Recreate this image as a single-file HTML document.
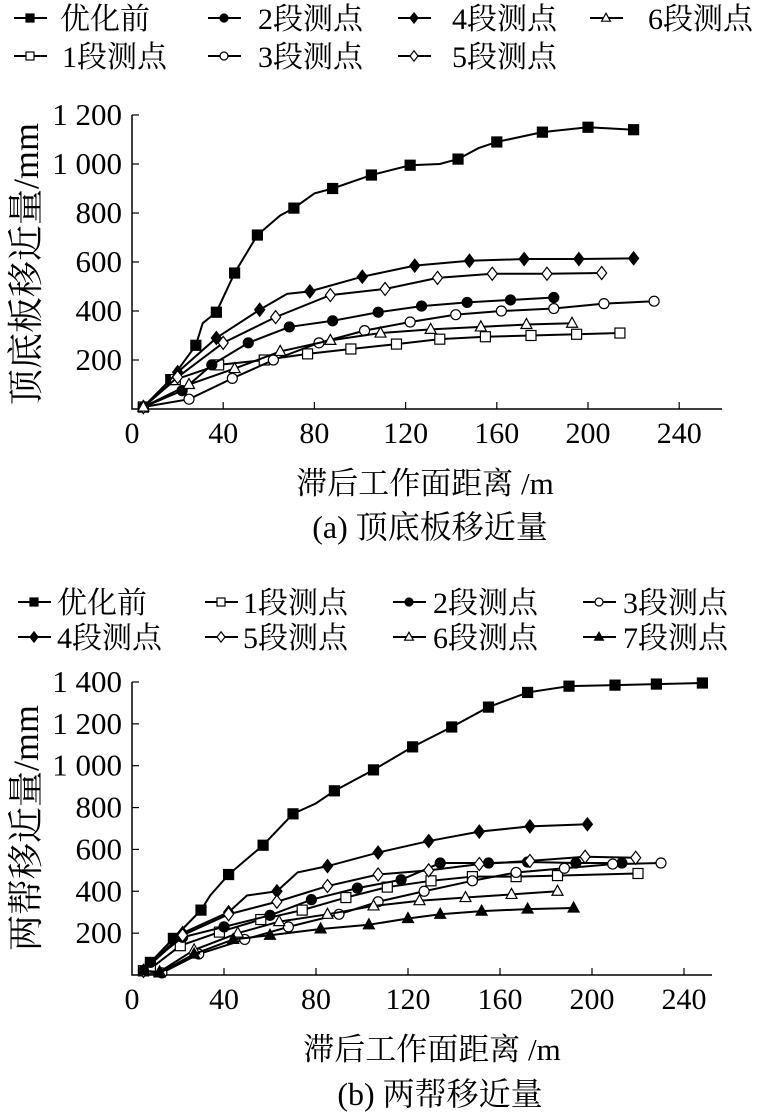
<!DOCTYPE html>
<html><head><meta charset="utf-8"><style>
body{margin:0;background:#fff;width:764px;height:1117px;overflow:hidden}
svg{display:block}
text{font-family:"Liberation Serif","Noto Serif CJK SC","Noto Sans CJK SC",serif;fill:#000}
</style></head><body>
<svg id="svg" width="764" height="1117" viewBox="0 0 764 1117"></svg>
<script>
// ---- chart A data (顶底板移近量) ----
const aNames=["优化前","1段测点","2段测点","3段测点","4段测点","5段测点","6段测点"];
const aMarkers=["fsq","osq","fci","oci","fdi","odi","otr"];
const aX0=[5,17,28,31,37,45,55,65,71,80,88,105,122,135,143,152,160,180,200,220];
const aY0=[8,120,260,350,395,555,710,790,820,880,900,955,995,1000,1020,1065,1090,1130,1150,1140];
const aX1=[5,19,38,58,77,96,116,135,155,175,195,214];
const aY1=[8,120,180,200,225,245,265,285,295,300,305,310];
const aX2=[5,22,35,51,69,88,108,127,147,166,185];
const aY2=[8,75,180,270,335,360,395,420,435,445,455];
const aX3=[5,25,44,62,82,102,122,142,162,185,207,229];
const aY3=[8,40,125,200,270,320,355,385,400,410,430,440];
const aX4=[5,20,37,56,68,78,101,124,148,172,196,220];
const aY4=[8,150,290,405,470,480,540,585,605,612,612,615];
const aX5=[5,20,40,63,87,111,134,158,182,206];
const aY5=[8,130,270,375,465,490,535,552,552,555];
const aX6=[5,25,45,65,87,109,131,153,173,193];
const aY6=[8,100,165,235,280,310,325,335,345,350];
const aXTicks=[0,40,80,120,160,200,240];
const aYTicks=[200,400,600,800,1000,1200];
const aYTickLabels=["200","400","600","800","1 000","1 200"];
// ---- chart B data (两帮移近量) ----
const bNames=["优化前","1段测点","2段测点","3段测点","4段测点","5段测点","6段测点","7段测点"];
const bMarkers=["fsq","osq","fci","oci","fdi","odi","otr","ftr"];
const bX0=[5,8,18,30,34,42,57,70,80,88,105,122,139,155,172,190,210,228,248];
const bY0=[20,60,175,310,380,480,620,770,820,880,980,1090,1185,1280,1350,1380,1385,1390,1395];
const bX1=[5,8,21,38,56,74,93,111,130,148,167,185,220];
const bY1=[20,30,140,205,265,310,370,420,450,470,470,475,485];
const bX2=[5,8,22,40,60,78,98,117,134,155,172,193,213];
const bY2=[20,60,180,230,285,360,415,455,535,535,540,535,535];
const bX3=[5,13,29,49,68,90,107,127,148,167,188,209,230];
const bY3=[20,10,100,170,230,290,350,400,450,490,510,530,535];
const bX4=[5,22,42,50,63,72,85,107,129,151,173,198];
const bY4=[20,200,300,380,400,490,520,585,640,685,710,720];
const bX5=[5,22,42,63,85,107,129,151,173,197,219];
const bY5=[20,190,290,350,425,480,500,530,545,565,560];
const bX6=[5,12,27,46,64,85,105,125,145,165,185];
const bY6=[20,15,120,200,255,290,330,355,370,385,400];
const bX7=[5,12,27,44,60,82,103,120,134,152,172,192];
const bY7=[20,10,100,170,190,220,240,270,290,305,315,320];
const bXTicks=[0,40,80,120,160,200,240];
const bYTicks=[200,400,600,800,1000,1200,1400];
const bYTickLabels=["200","400","600","800","1 000","1 200","1 400"];

const NS="http://www.w3.org/2000/svg";
const svg=document.getElementById('svg');
function mk(tag,attrs,parent){const e=document.createElementNS(NS,tag);for(const k in attrs)e.setAttribute(k,attrs[k]);(parent||svg).appendChild(e);return e;}
function marker(type,x,y,s,g){
  const fill=type[0]==='f'?'#000':'#fff';const sh=type.slice(1);let e;
  if(sh==='sq')e=mk('rect',{x:x-s,y:y-s,width:2*s,height:2*s,fill:fill,stroke:'#000','stroke-width':1.2},g);
  else if(sh==='ci')e=mk('circle',{cx:x,cy:y,r:s,fill:fill,stroke:'#000','stroke-width':1.2},g);
  else if(sh==='di')e=mk('polygon',{points:`${x},${y-s*1.3} ${x+s},${y} ${x},${y+s*1.3} ${x-s},${y}`,fill:fill,stroke:'#000','stroke-width':1.2},g);
  else e=mk('polygon',{points:`${x},${y-s*1.2} ${x+s*1.1},${y+s*0.8} ${x-s*1.1},${y+s*0.8}`,fill:fill,stroke:'#000','stroke-width':1.2},g);
  
  
}
function chart(cfg){
  const sx=v=>cfg.x0+v*cfg.kx, sy=v=>cfg.y0-v*cfg.ky;
  const g=mk('g',{});
  
  
  const ax=mk('path',{d:`M${cfg.x0},${sy(cfg.yTop)} V${cfg.y0} H${cfg.xEnd}`,stroke:'#000','stroke-width':1.5,fill:'none'},g);
  
  
  cfg.xt.forEach(v=>{
    if(v>0){const t=mk('line',{x1:sx(v),x2:sx(v),y1:cfg.y0,y2:cfg.y0-7,stroke:'#000','stroke-width':1.2},g);
    
    }
    const l=mk('text',{x:sx(v),y:cfg.y0+34,'font-size':30,'text-anchor':'middle'},g);l.textContent=v;
    
    
  });
  cfg.yt.forEach((v,i)=>{
    const t=mk('line',{x1:cfg.x0,x2:cfg.x0+7,y1:sy(v),y2:sy(v),stroke:'#000','stroke-width':1.2},g);
    
    
    const l=mk('text',{x:cfg.x0-10,y:sy(v)+10,'font-size':31,'text-anchor':'end'},g);l.textContent=cfg.ytl[i];
    
    
  });
  cfg.series.forEach((s,i)=>{
    const pl=mk('polyline',{points:s[0].map((x,j)=>sx(x)+','+sy(s[1][j])).join(' '),fill:'none',stroke:'#000','stroke-width':2},g);
    
    
    s[0].forEach((x,j)=>{ if(j===0||cfg.mk(i,j)) marker(cfg.markers[i],sx(x),sy(s[1][j]),5,g); });
  });
}
chart({name:'roof-floor-chart',x0:132,y0:409,kx:2.28,ky:0.245,yTop:1200,xEnd:722,xt:aXTicks,yt:aYTicks,ytl:aYTickLabels,markers:aMarkers,
  series:[[aX0,aY0],[aX1,aY1],[aX2,aY2],[aX3,aY3],[aX4,aY4],[aX5,aY5],[aX6,aY6]],
  mk:(i,j)=>!(i===0&&[3,7,9,13,15].includes(j))&&!(i===4&&j===4)});
chart({name:'sidewall-chart',x0:132,y0:975,kx:2.3,ky:0.2093,yTop:1400,xEnd:712,xt:bXTicks,yt:bYTicks,ytl:bYTickLabels,markers:bMarkers,
  series:[[bX0,bY0],[bX1,bY1],[bX2,bY2],[bX3,bY3],[bX4,bY4],[bX5,bY5],[bX6,bY6],[bX7,bY7]],
  mk:(i,j)=>!(i===0&&[4,8].includes(j))&&!(i===4&&[3,5].includes(j))});

function legend(names,markers,pos,nm){
  names.forEach((n,i)=>{
    const [lx,ly,tx]=pos[i];
    const g=mk('g',{});
    
    
    mk('line',{x1:lx,x2:lx+33,y1:ly,y2:ly,stroke:'#000','stroke-width':2},g);
    marker(markers[i],lx+16,ly,4,g);
    const t=mk('text',{x:tx,y:ly+11,'font-size':30},g);t.textContent=n;
  });
}
legend(aNames,aMarkers,[[14,18,60],[14,56,62],[208,18,258],[208,56,258],[398,18,452],[398,56,452],[590,18,648]],'legend-a');
legend(bNames,bMarkers,[[18,602,57],[205,602,243],[393,602,433],[583,602,623],[18,637,57],[205,637,243],[393,637,433],[583,637,623]],'legend-b');

function txt(s,x,y,size,nm,rot){const t=mk('text',{x:x,y:y,'font-size':size,'text-anchor':'middle'});if(rot)t.setAttribute('transform',`rotate(-90 ${x} ${y})`);t.textContent=s;
  
  }
txt('顶底板移近量/mm',38,264,36,'y-axis-title-a',true);
txt('滞后工作面距离 /m',425,494,31,'x-axis-title-a');
txt('(a) 顶底板移近量',430,538,32,'caption-a');
txt('两帮移近量/mm',38,828,36,'y-axis-title-b',true);
txt('滞后工作面距离 /m',432,1060,31,'x-axis-title-b');
txt('(b) 两帮移近量',440,1105,32,'caption-b');
</script>
</body></html>
